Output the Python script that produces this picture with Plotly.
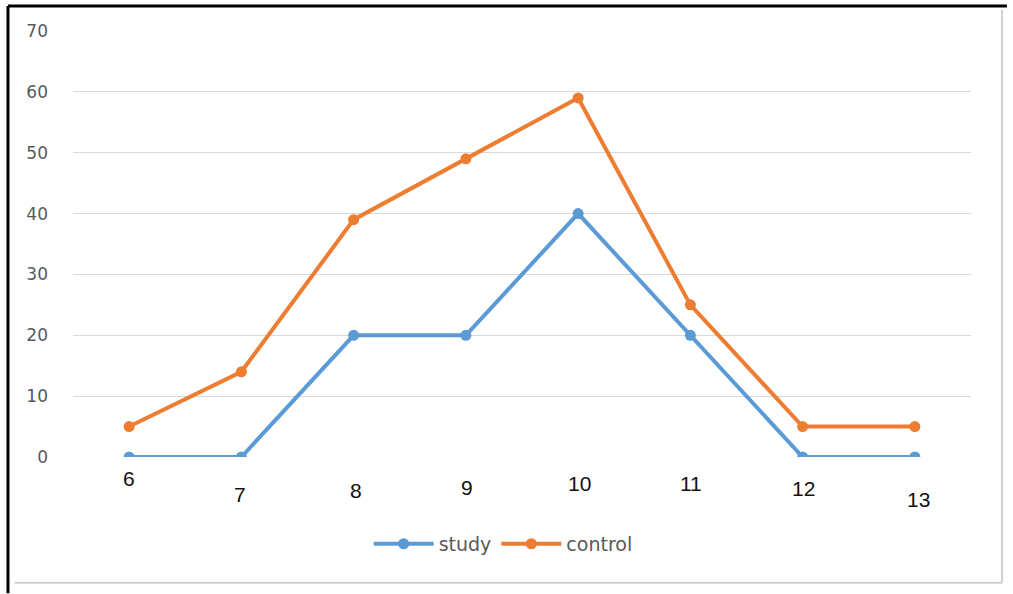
import plotly.graph_objects as go

categories = ["6", "7", "8", "9", "10", "11", "12", "13"]
study = [0, 0, 20, 20, 40, 20, 0, 0]
control = [5, 14, 39, 49, 59, 25, 5, 5]
y_ticks = [0, 10, 20, 30, 40, 50, 60, 70]

# style only: offsets (px) of the hand-placed x labels
label_yshift = [-8, -24, -20, -17, -13, -13, -18, -29]
label_xshift = [0, -1, 2, 1, 1, 1, 1, 4]

fig = go.Figure()
fig.add_trace(go.Scatter(
    x=categories, y=study, name="study", mode="lines+markers",
    line=dict(color="#5B9BD5", width=4), marker=dict(size=11, color="#5B9BD5")))
fig.add_trace(go.Scatter(
    x=categories, y=control, name="control", mode="lines+markers",
    line=dict(color="#ED7D31", width=4), marker=dict(size=11, color="#ED7D31")))

for i, (c, dy, dx) in enumerate(zip(categories, label_yshift, label_xshift)):
    fig.add_annotation(x=i, y=0, xref="x", yref="y", text=c, showarrow=False,
                       yanchor="top", yshift=dy, xshift=dx,
                       font=dict(family="Arial, Liberation Sans", size=21, color="#111111"))

# frame
fig.add_shape(type="line", xref="paper", yref="paper", x0=-0.0724, x1=-0.0724, y0=1.0587, y1=-0.32,
              line=dict(color="black", width=3))
fig.add_shape(type="line", xref="paper", yref="paper", x0=-0.0724, x1=1.04, y0=1.0587, y1=1.0587,
              line=dict(color="black", width=3))
fig.add_shape(type="line", xref="paper", yref="paper", x0=1.0345, x1=1.0345, y0=1.05, y1=-0.295,
              line=dict(color="#d0d0d0", width=2))
fig.add_shape(type="line", xref="paper", yref="paper", x0=-0.065, x1=1.0345, y0=-0.295, y1=-0.295,
              line=dict(color="#d0d0d0", width=2))

fig.update_layout(
    width=1013, height=594,
    margin=dict(l=73, r=42, t=31, b=137),
    paper_bgcolor="white", plot_bgcolor="white",
    showlegend=True,
    legend=dict(orientation="h", x=0.479, xanchor="center", y=-0.204, yanchor="middle",
                font=dict(family="DejaVu Sans", size=19, color="#595959"),
                itemwidth=60),
    xaxis=dict(type="category", range=[-0.5, 7.5], showticklabels=False, showgrid=False,
               zeroline=False, showline=False, ticks=""),
    yaxis=dict(range=[0, 70], tickvals=y_ticks, showgrid=True, gridcolor="#d9d9d9", gridwidth=1,
               zeroline=False, showline=False, ticks="", ticklabelstandoff=24,
               tickfont=dict(family="DejaVu Sans", size=17, color="#595959")),
)

fig.write_html("out.html", config={"displayModeBar": False},
               post_script="document.body.style.margin='0';document.body.style.overflow='hidden';")
